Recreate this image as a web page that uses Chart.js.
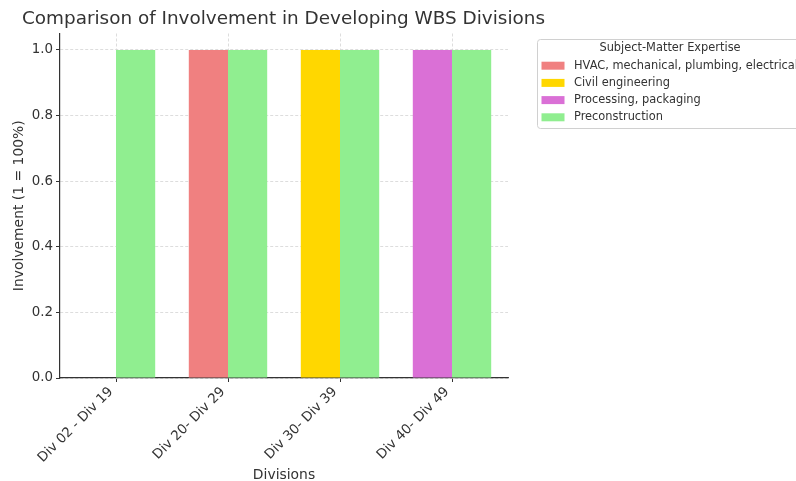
<!DOCTYPE html>
<html>
<head>
<meta charset="utf-8">
<script src="https://cdn.jsdelivr.net/npm/chart.js@4/dist/chart.umd.min.js"></script>
<style>
html,body{margin:0;padding:0;background:#fff;}
canvas{display:block;}
</style>
</head>
<body>
<canvas id="c" width="796" height="481"></canvas>
<script>
const categories = ["Div 02 - Div 19", "Div 20- Div 29", "Div 30- Div 39", "Div 40- Div 49"];
const hvacValues = [0, 1, 0, 0];
const civilValues = [0, 0, 1, 0];
const processingValues = [0, 0, 0, 1];
const preconstructionValues = [1, 1, 1, 1];
const seriesLabels = ["HVAC, mechanical, plumbing, electrical", "Civil engineering", "Processing, packaging", "Preconstruction"];
const yTickValues = [0, 0.2, 0.4, 0.6, 0.8, 1.0];
const chartTitle = "Comparison of Involvement in Developing WBS Divisions";
const legendTitle = "Subject-Matter Expertise";
const xTitle = "Divisions";
const yTitle = "Involvement (1 = 100%)";

const FONT = "'DejaVu Sans', sans-serif";
const TXT = '#333333';

const titlePlugin = {
  id: 'mplTitle',
  afterDraw(chart) {
    const ctx = chart.ctx;
    ctx.save();
    ctx.font = '18.4px ' + FONT;
    ctx.fillStyle = TXT;
    ctx.textAlign = 'left';
    ctx.textBaseline = 'middle';
    ctx.fillText(chartTitle, 22, 19);
    ctx.restore();
  }
};

const legendPlugin = {
  id: 'mplLegend',
  afterDraw(chart) {
    const ctx = chart.ctx;
    const x = 537.5, y = 39.5, w = 264, h = 89, r = 3;
    ctx.save();
    ctx.beginPath();
    ctx.moveTo(x + r, y);
    ctx.lineTo(x + w - r, y);
    ctx.arcTo(x + w, y, x + w, y + r, r);
    ctx.lineTo(x + w, y + h - r);
    ctx.arcTo(x + w, y + h, x + w - r, y + h, r);
    ctx.lineTo(x + r, y + h);
    ctx.arcTo(x, y + h, x, y + h - r, r);
    ctx.lineTo(x, y + r);
    ctx.arcTo(x, y, x + r, y, r);
    ctx.closePath();
    ctx.fillStyle = 'rgba(255,255,255,0.8)';
    ctx.fill();
    ctx.strokeStyle = '#d0d0d0';
    ctx.lineWidth = 1;
    ctx.stroke();
    ctx.font = '11.4px ' + FONT;
    ctx.fillStyle = TXT;
    ctx.textAlign = 'center';
    ctx.textBaseline = 'middle';
    ctx.fillText(legendTitle, 670, 48.5);
    ctx.textAlign = 'left';
    const rowsY = [65.7, 82.9, 100.1, 117.3];
    chart.data.datasets.forEach((ds, i) => {
      ctx.fillStyle = ds.backgroundColor;
      ctx.fillRect(541.5, rowsY[i] - 4, 23, 8);
      ctx.fillStyle = TXT;
      ctx.fillText(ds.label, 574, rowsY[i]);
    });
    ctx.restore();
  }
};

new Chart(document.getElementById('c'), {
  type: 'bar',
  data: {
    labels: categories,
    datasets: [
      { label: seriesLabels[0], data: hvacValues, backgroundColor: '#F08080', stack: 'expertise' },
      { label: seriesLabels[1], data: civilValues, backgroundColor: '#FFD700', stack: 'expertise' },
      { label: seriesLabels[2], data: processingValues, backgroundColor: '#DA70D6', stack: 'expertise' },
      { label: seriesLabels[3], data: preconstructionValues, backgroundColor: '#90EE90', stack: 'precon' }
    ]
  },
  options: {
    responsive: false,
    animation: false,
    devicePixelRatio: 1,
    layout: { padding: { left: 0, right: 288, top: 33.5, bottom: 0 } },
    datasets: { bar: { categoryPercentage: 0.7, barPercentage: 1.0, borderWidth: 0 } },
    plugins: {
      legend: { display: false },
      title: { display: false },
      tooltip: { enabled: false }
    },
    scales: {
      x: {
        offset: true,
        grid: { offset: false, color: '#d4d4d4', lineWidth: 0.8, drawTicks: true, tickLength: 4, tickColor: '#333', tickBorderDash: [], tickWidth: 1 },
        border: { display: true, color: '#333', width: 1.2, dash: [3, 2] },
        ticks: { color: TXT, font: { family: FONT, size: 13.4 }, maxRotation: 45, minRotation: 45, padding: 2, labelOffset: -5, autoSkip: false },
        title: { display: true, text: xTitle, color: TXT, font: { family: FONT, size: 13.9 }, padding: { top: 0, bottom: -3 } },
        afterFit(scale) { scale.height = 481 - 378; }
      },
      y: {
        stacked: true,
        min: 0,
        max: 1.05,
        grid: { color: '#d4d4d4', lineWidth: 0.8, drawTicks: true, tickLength: 4, tickColor: '#333', tickBorderDash: [], tickWidth: 1 },
        border: { display: true, color: '#333', width: 1.2, dash: [3, 2] },
        ticks: { color: TXT, font: { family: FONT, size: 13.4 }, padding: 3, callback: v => v.toFixed(1) },
        afterBuildTicks(scale) { scale.ticks = yTickValues.map(v => ({ value: v })); },
        title: { display: true, text: yTitle, color: TXT, font: { family: FONT, size: 13.9 }, padding: { top: 11, bottom: 0 } },
        afterFit(scale) { scale.width = 60; }
      }
    }
  },
  plugins: [titlePlugin, legendPlugin]
});
</script>
</body>
</html>
